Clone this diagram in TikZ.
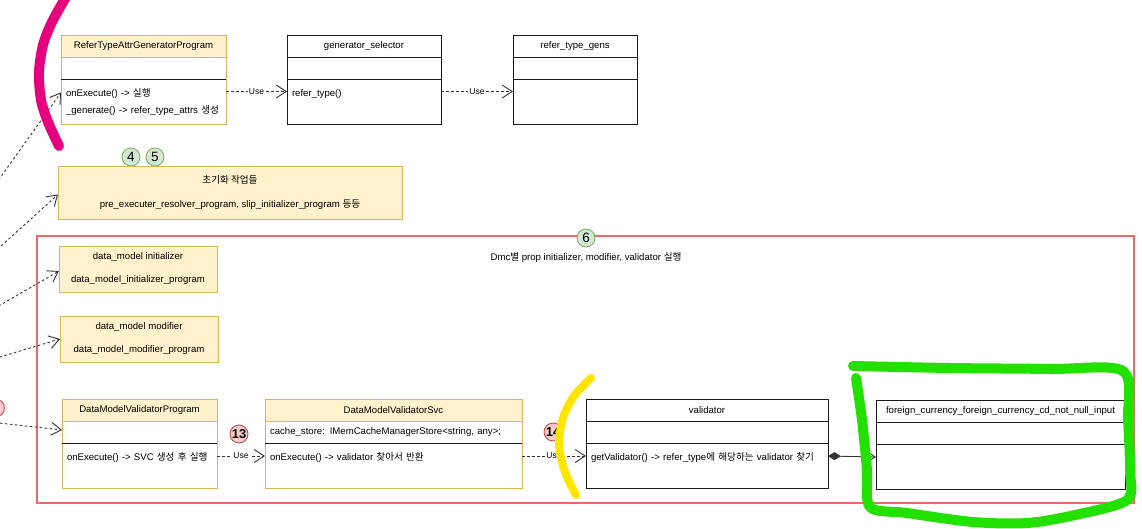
\documentclass[tikz,border=0pt]{standalone}
\usepackage{fontspec}
\setmainfont{Liberation Sans}
\newfontfamily\kr{Noto Sans CJK KR}
\usepackage{xcolor}
\usepackage{tikz}
\usetikzlibrary{positioning,arrows.meta}
\definecolor{noteyellow}{HTML}{FFF2CC}
\definecolor{notebrown}{HTML}{D6B656}
\definecolor{groupred}{HTML}{EA6B66}
\definecolor{okgreen}{HTML}{D5E8D4}
\definecolor{okgreenline}{HTML}{82B366}
\definecolor{badred}{HTML}{F8CECC}
\definecolor{badredline}{HTML}{B85450}
\definecolor{umlline}{HTML}{1A1A1A}
\definecolor{linkgray}{HTML}{333333}
\definecolor{penpink}{HTML}{E6007E}
\definecolor{penyellow}{HTML}{FFE600}
\definecolor{pengreen}{HTML}{22E000}

\begin{document}
\begin{tikzpicture}[
  x=1pt, y=-1pt,
  line width=0.9pt,
  font=\fontsize{9.6}{17}\selectfont,
  every node/.style={outer sep=0pt},
  headY/.style={draw=notebrown, fill=noteyellow, minimum height=22pt, inner xsep=5pt, inner ysep=0pt, align=center},
  headW/.style={draw=umlline, fill=white, minimum height=22pt, inner xsep=5pt, inner ysep=0pt, align=center},
  attrY/.style={draw=notebrown, fill=white, minimum height=22pt, inner xsep=5pt, inner ysep=0pt, align=left},
  attrW/.style={draw=umlline, fill=white, minimum height=22pt, inner xsep=5pt, inner ysep=0pt, align=left},
  methY/.style={draw=notebrown, fill=white, inner xsep=5pt, inner ysep=6pt, text height=11.5pt, text depth=21.5pt, align=left},
  methW/.style={draw=umlline, fill=white, inner xsep=5pt, inner ysep=6pt, text height=11.5pt, text depth=21.5pt, align=left},
  note/.style={draw=notebrown, fill=noteyellow, align=center, inner sep=0pt},
  group/.style={draw=groupred, line width=1.1pt},
  numG/.style={circle, draw=okgreenline, fill=okgreen, minimum size=18pt, inner sep=0pt, font=\fontsize{13.5}{14}\selectfont},
  numR/.style={circle, draw=badredline, fill=badred, minimum size=18pt, inner sep=0pt, font=\bfseries\fontsize{13}{14}\selectfont},
  uses/.style={draw=linkgray, dash pattern=on 2.5pt off 2.5pt, -{Straight Barb[length=10pt,width=13pt]}},
  usetag/.style={fill=white, inner sep=1pt, font=\fontsize{8.5}{10}\selectfont},
  comp/.style={draw=linkgray, {Diamond[length=13pt,width=8pt]}-{Straight Barb[length=10pt,width=13pt]}},
  pen/.style={line width=10pt, line cap=round, line join=round}
]
\useasboundingbox[fill=white] (0,0) rectangle (1142,529);

% Dmc group
\node[group, minimum width=1097pt, minimum height=267pt] (dmc) at (585.5,369.5) {};
\node (dmc-title) at (586,258) {Dmc{\kr 별} prop initializer, modifier, validator {\kr 실행}};
\node[numG] (c6) at (586,238) {6};

% generator classes
\node[headY, text width=155pt, anchor=north] (gen) at (143.5,35) {ReferTypeAttrGeneratorProgram};
\node[attrY, text width=155pt, below=0pt of gen] (gen-a) {};
\node[methY, text width=155pt, below=0pt of gen-a] (gen-m) {onExecute() -> {\kr 실행}\\\_generate() -> refer\_type\_attrs {\kr 생성}};
\draw[umlline] (gen-m.north west) -- (gen-m.north east);

\node[headW, text width=144pt, anchor=north] (gsel) at (364,35) {generator\_selector};
\node[attrW, text width=144pt, below=0pt of gsel] (gsel-a) {};
\node[methW, text width=144pt, below=0pt of gsel-a] (gsel-m) {refer\_type()};

\node[headW, text width=114pt, anchor=north] (gens) at (575,35) {refer\_type\_gens};
\node[attrW, text width=114pt, below=0pt of gens] (gens-a) {};
\node[methW, text width=114pt, below=0pt of gens-a] (gens-m) {};

% notes
\node[numG] (c4) at (131,157) {4};
\node[numG] (c5) at (155,157) {5};
\node[note, minimum width=344pt, minimum height=53pt] (init) at (230,192.5) {{\kr 초기화 작업들}\\[7pt]pre\_executer\_resolver\_program, slip\_initializer\_program {\kr 등등}};
\node[note, minimum width=158pt, minimum height=46pt] (dmi) at (138,269) {data\_model initializer\\[6pt]data\_model\_initializer\_program};
\node[note, minimum width=158pt, minimum height=46pt] (dmm) at (139,339) {data\_model modifier\\[6pt]data\_model\_modifier\_program};

% validator classes
\node[headY, text width=145pt, anchor=north] (dmvp) at (139.5,399) {DataModelValidatorProgram};
\node[attrY, text width=145pt, below=0pt of dmvp] (dmvp-a) {};
\node[methY, text width=145pt, below=0pt of dmvp-a] (dmvp-m) {onExecute() -> SVC {\kr 생성 후 실행}};
\draw[umlline] (dmvp-m.north west) -- (dmvp-m.north east);

\node[headY, text width=247pt, anchor=north] (svc) at (393.5,399) {DataModelValidatorSvc};
\node[attrY, text width=247pt, below=0pt of svc] (svc-a) {cache\_store: IMemCacheManagerStore<string, any>;};
\node[methY, text width=247pt, below=0pt of svc-a] (svc-m) {onExecute() -> validator {\kr 찾아서 반환}};
\draw[umlline] (svc-m.north west) -- (svc-m.north east);

\node[headW, text width=232pt, anchor=north] (valid) at (707,399) {validator};
\node[attrW, text width=232pt, below=0pt of valid] (valid-a) {};
\node[methW, text width=232pt, below=0pt of valid-a] (valid-m) {getValidator() -> refer\_type{\kr 에 해당하는} validator {\kr 찾기}};

\node[headW, text width=239pt, anchor=north] (fcur) at (1000.5,400) {foreign\_currency\_foreign\_currency\_cd\_not\_null\_input};
\node[attrW, text width=239pt, below=0pt of fcur] (fcur-a) {};
\node[methW, text width=239pt, below=0pt of fcur-a] (fcur-m) {};

\node[numR] (c13) at (239,434) {13};
\node[numR] (c14) at (553,432) {14};
\node[numR] (c12) at (-4.5,408) {};

% links
\draw[uses] ([yshift=10pt]gen-m.east) -- node[usetag] (u1) {Use} ([yshift=10pt]gsel-m.west);
\draw[uses] ([yshift=10pt]gsel-m.east) -- node[usetag] (u2) {Use} ([yshift=10pt]gens-m.west);
\draw[uses] ([yshift=9.5pt]dmvp-m.east) -- node[usetag] (u3) {Use} ([yshift=9.5pt]svc-m.west);
\draw[uses] ([yshift=9.5pt]svc-m.east) -- node[usetag] (u4) {Use} ([yshift=9.5pt]valid-m.west);
\draw[comp] ([yshift=9.5pt]valid-m.east) -- ([yshift=9.5pt]fcur-m.west);

\coordinate (in1) at (-10,192);
\coordinate (in2) at (-10,256);
\coordinate (in3) at (-10,311);
\coordinate (in4) at (-10,360);
\coordinate (in5) at (-10,422);
\draw[uses] (in1) -- ([yshift=9pt]gen-m.west);
\draw[uses] (in2) -- ([yshift=-2pt]init.west);
\draw[uses] (in3) -- ([yshift=-2pt]dmi.west);
\draw[uses] (in4) -- (dmm.west);
\draw[uses] (in5) -- ([yshift=2pt]dmvp-a.west);

% marker scribbles
\draw[pen, penpink] plot[smooth] coordinates {(66,-3) (52,22) (43,45) (39,72) (41,100) (48,122) (59,146)};
\draw[pen, penyellow, line width=8pt] plot[smooth] coordinates {(591,378) (574,396) (563,418) (559,445) (565,472) (576,495)};
\draw[pen, pengreen] plot[smooth] coordinates {(853,366) (950,368) (1050,369) (1123,371) (1128,420) (1130,470) (1127,500) (1075,515) (1027,523) (973,522) (907,513) (870,507) (867,470) (862,420) (856,378)};
\end{tikzpicture}
\end{document}
